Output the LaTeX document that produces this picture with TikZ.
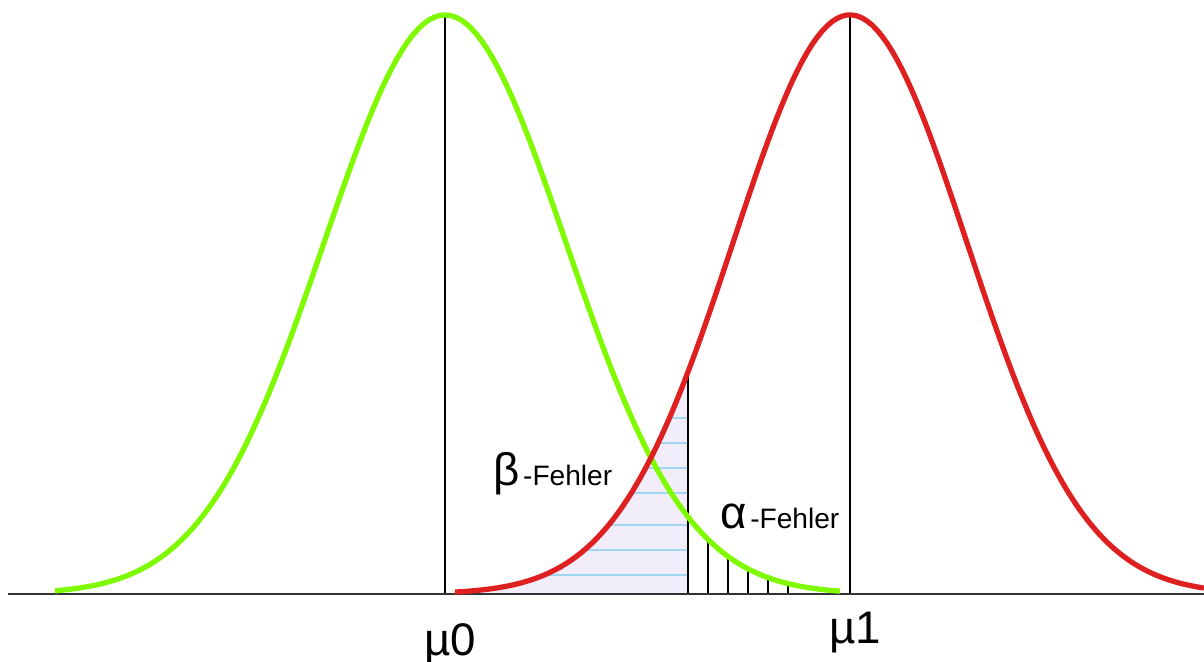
\documentclass[tikz,border=0pt]{standalone}
\usepackage{fontspec}
\setmainfont{Liberation Sans}
\usepackage{tikz}
\usetikzlibrary{calc}

\definecolor{hgreen}{RGB}{128,250,0}
\definecolor{hred}{RGB}{222,32,32}
\definecolor{betafill}{RGB}{241,237,250}
\definecolor{betaline}{RGB}{160,215,240}

\begin{document}
\begin{tikzpicture}[>=stealth, font=\small,
		curve/.style={line width=1.5pt, line join=round},
		greek/.style={font=\fontsize{13}{15}\selectfont, inner sep=0pt},
		fehler/.style={font=\fontsize{8}{10}\selectfont},
		declare function={
			gA(\x)=0.67+5.79*exp(-((\x-4.45)/1.21)^2/2);
			gB(\x)=0.67+5.79*exp(-((\x-8.50)/1.17)^2/2);
		}]
		\useasboundingbox (0,0) rectangle (12.04,6.61);
		\def\ya{0.67}  % axis height
		\def\xc{6.88}  % critical value
		% beta region
		\fill[betafill] (4.55,\ya) -- plot[domain=4.55:\xc, samples=60] (\x,{gB(\x)}) -- (\xc,\ya) -- cycle;
		\begin{scope}
			\clip (4.55,\ya) -- plot[domain=4.55:\xc, samples=60] (\x,{gB(\x)}) -- (\xc,\ya) -- cycle;
			\foreach \y in {0.86,1.11,1.36,1.68,1.93,2.18,2.43}
				\draw[betaline, line width=0.6pt] (4.5,\y) -- (\xc,\y);
		\end{scope}
		% alpha region
		\foreach \x in {7.08,7.28,7.48,7.68,7.88}
			\draw[line width=0.5pt] (\x,\ya) -- (\x,{gA(\x)});
		\draw[line width=0.5pt] (\xc,\ya) -- (\xc,{gB(\xc)});
		% means
		\draw[line width=0.5pt] (4.45,\ya) -- (4.45,6.46);
		\draw[line width=0.5pt] (8.50,\ya) -- (8.50,6.46);
		% axis
		\draw[black!80, line width=0.7pt] (0.08,\ya) -- (12.04,\ya);
		% curves
		\draw[curve, hgreen] plot[domain=0.55:8.40, samples=150] (\x,{gA(\x)});
		\draw[curve, hred] plot[domain=4.55:12.04, samples=150] (\x,{gB(\x)});
		% labels
		\node[greek, anchor=base] (mu0) at (4.50,0.06) {µ0};
		\node[greek, anchor=base] (mu1) at (8.55,0.18) {µ1};
		\node[greek, anchor=base west] (beta) at (4.93,1.75) {β};
		\node[fehler, anchor=base west, inner sep=0.5pt] at (beta.base east) {-Fehler};
		\node[greek, anchor=base west] (alpha) at (7.20,1.33) {α};
		\node[fehler, anchor=base west, inner sep=0.5pt] at (alpha.base east) {-Fehler};
	\end{tikzpicture}
\end{document}
